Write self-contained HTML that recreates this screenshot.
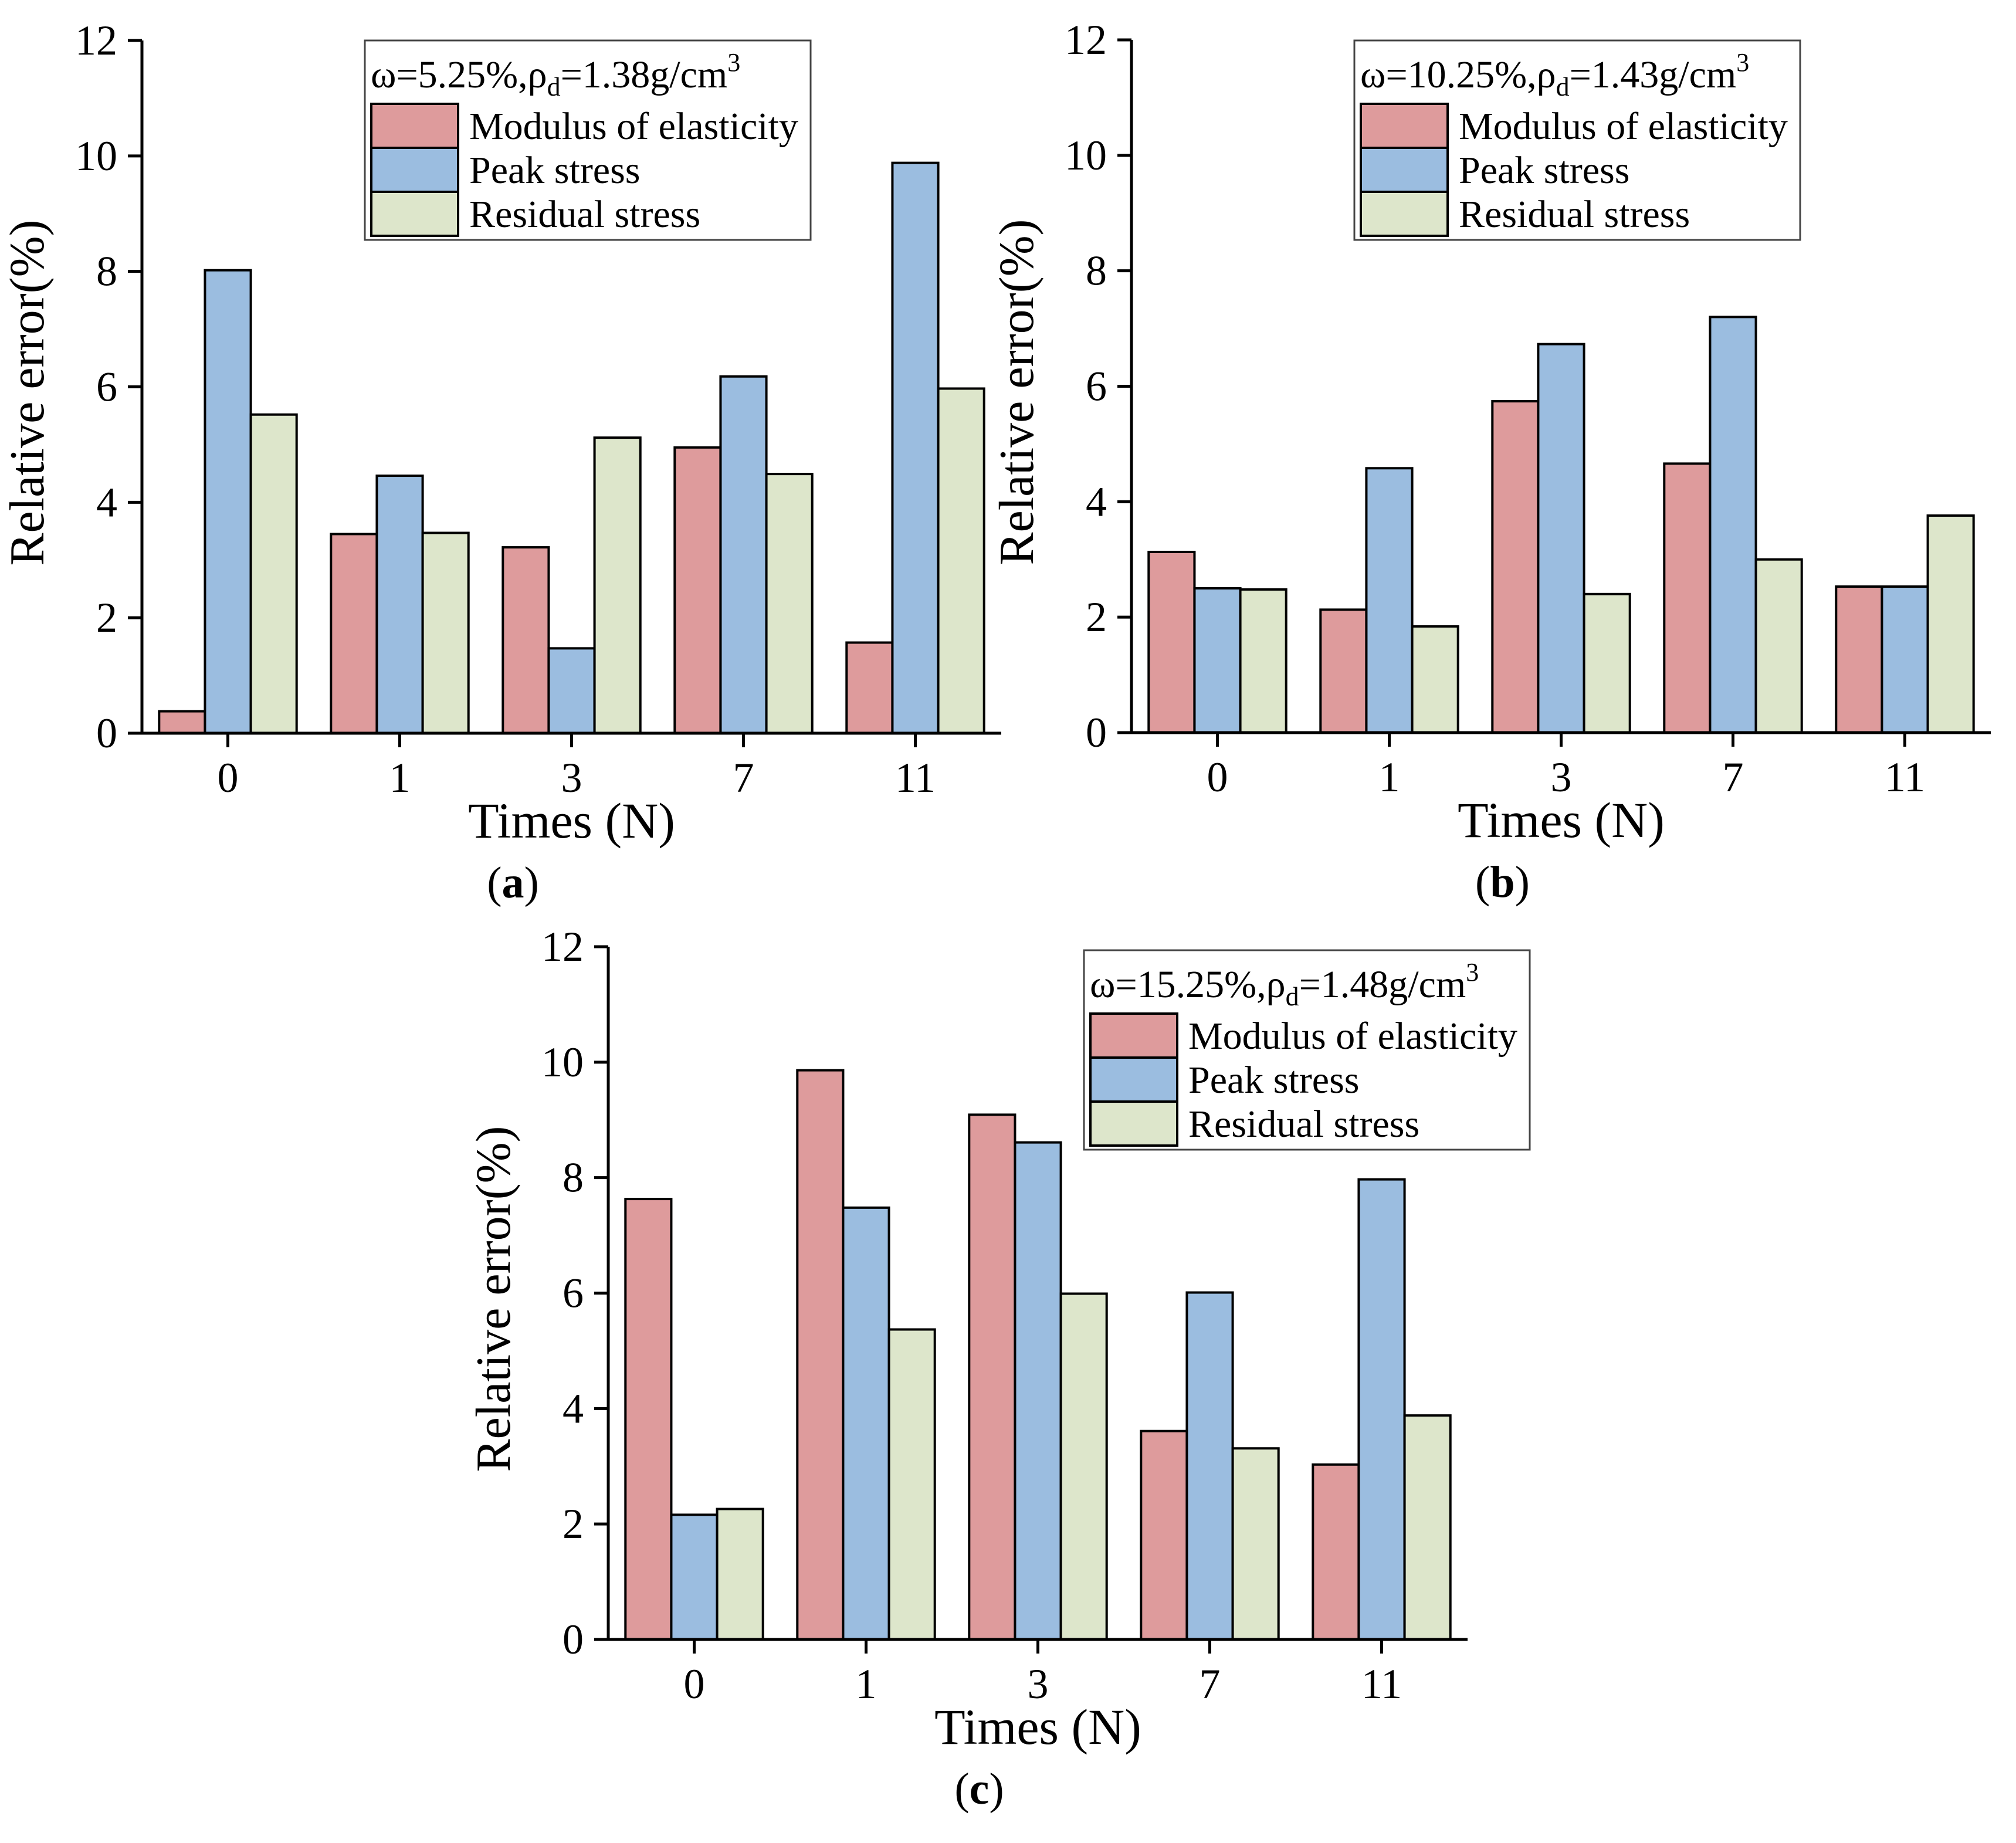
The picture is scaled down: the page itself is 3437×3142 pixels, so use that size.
<!DOCTYPE html>
<html><head><meta charset="utf-8"><style>
html,body{margin:0;padding:0;background:#fff;}
svg{display:block;font-family:"Liberation Serif",serif;}
</style></head><body>
<svg id="fig" width="3437" height="3142" viewBox="0 0 3437 3142" xmlns="http://www.w3.org/2000/svg"></svg>
<script>
const categories = ["0","1","3","7","11"];
const yTicks = [0,2,4,6,8,10,12];
const seriesNames = ["Modulus of elasticity","Peak stress","Residual stress"];
const aModulus = [0.38,3.45,3.22,4.95,1.57];
const aPeak = [8.02,4.46,1.47,6.18,9.88];
const aResidual = [5.52,3.47,5.12,4.49,5.97];
const bModulus = [3.13,2.13,5.74,4.66,2.53];
const bPeak = [2.50,4.58,6.73,7.20,2.53];
const bResidual = [2.48,1.84,2.40,3.00,3.76];
const cModulus = [7.63,9.86,9.09,3.61,3.03];
const cPeak = [2.16,7.48,8.61,6.01,7.97];
const cResidual = [2.26,5.37,5.99,3.31,3.88];

const NS="http://www.w3.org/2000/svg";
const svg=document.getElementById('fig');
const colors=["#de9b9c","#9bbde0","#dde6cb"];
function mk(tag,attrs,parent){const e=document.createElementNS(NS,tag);for(const k in attrs)e.setAttribute(k,attrs[k]);(parent||svg).appendChild(e);return e;}

function panel(id,ox,oy,series,legendTitleParts,lx,ly,letter){
  const W=1465,H=1181,ymax=12;
  const g=mk('g',{});
  
  
  const ys=v=>oy-v/ymax*H;
  const band=W/categories.length;
  const xs=i=>ox+band*(i+0.5);
  const bw=band*0.8/3;
  series.forEach((vals,s)=>{
    vals.forEach((v,i)=>{
      const r=mk('rect',{x:xs(i)-1.5*bw+s*bw,y:ys(v),width:bw,height:ys(0)-ys(v),fill:colors[s],stroke:'#000','stroke-width':4},g);
      
      
    });
  });
  const ax=mk('path',{d:`M${ox},${oy-H} V${oy} H${ox+W}`,fill:'none',stroke:'#000','stroke-width':5},g);
  
  
  yTicks.forEach(t=>{
    mk('line',{x1:ox-24,x2:ox,y1:ys(t),y2:ys(t),stroke:'#000','stroke-width':5},g);
    const tx=mk('text',{x:ox-42,y:ys(t)+24,'font-size':72,'text-anchor':'end'},g);
    tx.textContent=t;
    
    
  });
  categories.forEach((c,i)=>{
    mk('line',{x1:xs(i),x2:xs(i),y1:oy,y2:oy+24,stroke:'#000','stroke-width':5},g);
    const tx=mk('text',{x:xs(i),y:oy+100,'font-size':72,'text-anchor':'middle'},g);
    tx.textContent=c;
    
    
  });
  const yt=mk('text',{x:0,y:0,'font-size':84,'text-anchor':'middle',transform:`translate(${ox-168},${oy-H/2+10}) rotate(-90)`},g);
  yt.textContent='Relative error(%)';
  
  
  const xt=mk('text',{x:ox+W/2,y:oy+178,'font-size':86,'text-anchor':'middle'},g);
  xt.textContent='Times (N)';
  
  
  const pl=mk('text',{x:ox+W/2-100,y:oy+280,'font-size':76,'text-anchor':'middle'},g);
  
  
  pl.innerHTML='(<tspan font-weight="bold">'+letter+'</tspan>)';
  const lg=mk('g',{},g);
  
  
  mk('rect',{x:lx,y:ly,width:760,height:340,fill:'#fff',stroke:'#444','stroke-width':3},lg);
  const tt=mk('text',{x:lx+10,y:ly+80,'font-size':66},lg);
  
  
  tt.innerHTML='ω='+legendTitleParts[0]+'%,ρ<tspan font-size="46" dy="14">d</tspan><tspan dy="-14">='+legendTitleParts[1]+'g/cm</tspan><tspan font-size="44" dy="-28">3</tspan>';
  seriesNames.forEach((n,s)=>{
    const y0=ly+108+s*75;
    const sw=mk('rect',{x:lx+11,y:y0,width:148,height:75,fill:colors[s],stroke:'#000','stroke-width':4},lg);
    
    
    const lt=mk('text',{x:lx+178,y:y0+60,'font-size':66},lg);
    lt.textContent=n;
    
    
  });
}
panel('a',242,1250,[aModulus,aPeak,aResidual],['5.25','1.38'],622,69,'a');
panel('b',1929,1249,[bModulus,bPeak,bResidual],['10.25','1.43'],2309,69,'b');
panel('c',1037,2795,[cModulus,cPeak,cResidual],['15.25','1.48'],1848,1620,'c');
</script>
</body></html>
